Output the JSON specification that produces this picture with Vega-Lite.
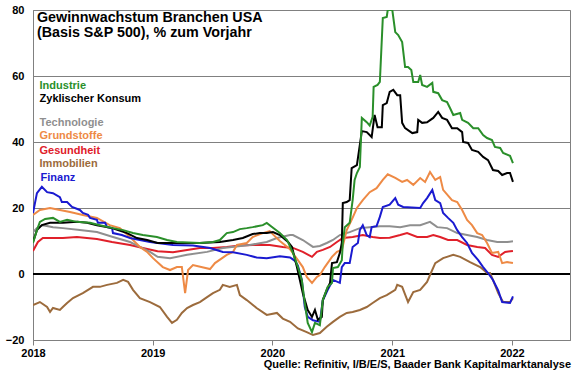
{
  "$schema": "https://vega.github.io/schema/vega-lite/v6.json",
  "width": 537,
  "height": 330,
  "autosize": {"type": "none"},
  "padding": {"left": 33, "top": 10, "right": 10, "bottom": 35},
  "background": "white",
  "config": {
    "font": "Liberation Sans",
    "view": {"stroke": "#808080", "strokeWidth": 1}
  },
  "title": {
    "text": "Quelle: Refinitiv, I/B/E/S, Baader Bank Kapitalmarktanalyse",
    "orient": "bottom",
    "anchor": "end",
    "fontSize": 11,
    "fontWeight": "bold",
    "color": "black",
    "font": "Liberation Sans",
    "offset": 1
  },
  "datasets": {
    "lines": [
      {"s": "Immobilien", "d": "2018-01-01", "v": -9.4},
      {"s": "Immobilien", "d": "2018-01-22", "v": -8.5},
      {"s": "Immobilien", "d": "2018-02-13", "v": -10.0},
      {"s": "Immobilien", "d": "2018-02-22", "v": -11.5},
      {"s": "Immobilien", "d": "2018-03-03", "v": -10.3},
      {"s": "Immobilien", "d": "2018-03-24", "v": -10.9},
      {"s": "Immobilien", "d": "2018-04-02", "v": -10.0},
      {"s": "Immobilien", "d": "2018-04-15", "v": -8.8},
      {"s": "Immobilien", "d": "2018-05-03", "v": -7.3},
      {"s": "Immobilien", "d": "2018-06-02", "v": -5.8},
      {"s": "Immobilien", "d": "2018-07-03", "v": -3.9},
      {"s": "Immobilien", "d": "2018-07-24", "v": -3.9},
      {"s": "Immobilien", "d": "2018-08-15", "v": -3.3},
      {"s": "Immobilien", "d": "2018-09-14", "v": -2.7},
      {"s": "Immobilien", "d": "2018-10-03", "v": -1.8},
      {"s": "Immobilien", "d": "2018-10-18", "v": -2.4},
      {"s": "Immobilien", "d": "2018-11-02", "v": -4.8},
      {"s": "Immobilien", "d": "2018-11-23", "v": -7.3},
      {"s": "Immobilien", "d": "2018-12-24", "v": -8.5},
      {"s": "Immobilien", "d": "2019-01-23", "v": -10.0},
      {"s": "Immobilien", "d": "2019-02-14", "v": -13.0},
      {"s": "Immobilien", "d": "2019-03-01", "v": -14.8},
      {"s": "Immobilien", "d": "2019-03-16", "v": -13.9},
      {"s": "Immobilien", "d": "2019-03-31", "v": -11.8},
      {"s": "Immobilien", "d": "2019-04-16", "v": -10.3},
      {"s": "Immobilien", "d": "2019-05-04", "v": -9.4},
      {"s": "Immobilien", "d": "2019-05-25", "v": -8.5},
      {"s": "Immobilien", "d": "2019-06-16", "v": -7.0},
      {"s": "Immobilien", "d": "2019-07-04", "v": -5.8},
      {"s": "Immobilien", "d": "2019-07-25", "v": -4.8},
      {"s": "Immobilien", "d": "2019-08-03", "v": -3.3},
      {"s": "Immobilien", "d": "2019-08-24", "v": -3.9},
      {"s": "Immobilien", "d": "2019-09-15", "v": -3.3},
      {"s": "Immobilien", "d": "2019-09-24", "v": -6.4},
      {"s": "Immobilien", "d": "2019-10-15", "v": -7.9},
      {"s": "Immobilien", "d": "2019-11-14", "v": -10.3},
      {"s": "Immobilien", "d": "2019-12-15", "v": -12.4},
      {"s": "Immobilien", "d": "2020-01-15", "v": -11.8},
      {"s": "Immobilien", "d": "2020-02-02", "v": -13.5},
      {"s": "Immobilien", "d": "2020-02-24", "v": -14.5},
      {"s": "Immobilien", "d": "2020-03-19", "v": -16.5},
      {"s": "Immobilien", "d": "2020-04-15", "v": -17.6},
      {"s": "Immobilien", "d": "2020-05-04", "v": -18.5},
      {"s": "Immobilien", "d": "2020-05-25", "v": -17.9},
      {"s": "Immobilien", "d": "2020-06-15", "v": -16.0},
      {"s": "Immobilien", "d": "2020-07-04", "v": -14.5},
      {"s": "Immobilien", "d": "2020-07-25", "v": -13.0},
      {"s": "Immobilien", "d": "2020-08-15", "v": -11.8},
      {"s": "Immobilien", "d": "2020-09-02", "v": -11.5},
      {"s": "Immobilien", "d": "2020-09-24", "v": -10.9},
      {"s": "Immobilien", "d": "2020-10-15", "v": -10.0},
      {"s": "Immobilien", "d": "2020-11-02", "v": -8.8},
      {"s": "Immobilien", "d": "2020-11-24", "v": -7.3},
      {"s": "Immobilien", "d": "2020-12-15", "v": -6.4},
      {"s": "Immobilien", "d": "2021-01-10", "v": -4.8},
      {"s": "Immobilien", "d": "2021-01-16", "v": -3.3},
      {"s": "Immobilien", "d": "2021-01-31", "v": -3.9},
      {"s": "Immobilien", "d": "2021-02-18", "v": -8.5},
      {"s": "Immobilien", "d": "2021-03-06", "v": -5.5},
      {"s": "Immobilien", "d": "2021-03-27", "v": -4.8},
      {"s": "Immobilien", "d": "2021-04-17", "v": -2.4},
      {"s": "Immobilien", "d": "2021-04-26", "v": -0.3},
      {"s": "Immobilien", "d": "2021-05-12", "v": 3.3},
      {"s": "Immobilien", "d": "2021-06-05", "v": 4.8},
      {"s": "Immobilien", "d": "2021-07-06", "v": 5.8},
      {"s": "Immobilien", "d": "2021-07-27", "v": 5.2},
      {"s": "Immobilien", "d": "2021-08-26", "v": 3.6},
      {"s": "Immobilien", "d": "2021-09-26", "v": 2.1},
      {"s": "Immobilien", "d": "2021-10-17", "v": 0.3},
      {"s": "Immobilien", "d": "2021-10-26", "v": 0.3},
      {"s": "Immobilien", "d": "2021-11-04", "v": -1.8},
      {"s": "Immobilien", "d": "2021-11-20", "v": -5.8},
      {"s": "Immobilien", "d": "2021-12-05", "v": -8.5},
      {"s": "Immobilien", "d": "2021-12-26", "v": -8.5},
      {"s": "Immobilien", "d": "2022-01-04", "v": -7.3},

      {"s": "Gesundheit", "d": "2018-01-01", "v": 7.0},
      {"s": "Gesundheit", "d": "2018-01-16", "v": 9.7},
      {"s": "Gesundheit", "d": "2018-01-31", "v": 10.9},
      {"s": "Gesundheit", "d": "2018-04-02", "v": 10.9},
      {"s": "Gesundheit", "d": "2018-05-15", "v": 11.2},
      {"s": "Gesundheit", "d": "2018-07-15", "v": 10.6},
      {"s": "Gesundheit", "d": "2018-08-30", "v": 9.7},
      {"s": "Gesundheit", "d": "2018-10-24", "v": 8.8},
      {"s": "Gesundheit", "d": "2018-12-02", "v": 7.9},
      {"s": "Gesundheit", "d": "2019-01-16", "v": 6.9},
      {"s": "Gesundheit", "d": "2019-03-04", "v": 6.6},
      {"s": "Gesundheit", "d": "2019-04-16", "v": 7.3},
      {"s": "Gesundheit", "d": "2019-05-25", "v": 7.9},
      {"s": "Gesundheit", "d": "2019-07-04", "v": 7.9},
      {"s": "Gesundheit", "d": "2019-08-15", "v": 8.2},
      {"s": "Gesundheit", "d": "2019-09-24", "v": 8.6},
      {"s": "Gesundheit", "d": "2019-11-02", "v": 8.8},
      {"s": "Gesundheit", "d": "2019-12-24", "v": 8.8},
      {"s": "Gesundheit", "d": "2020-02-02", "v": 8.2},
      {"s": "Gesundheit", "d": "2020-03-04", "v": 7.9},
      {"s": "Gesundheit", "d": "2020-04-03", "v": 6.7},
      {"s": "Gesundheit", "d": "2020-05-01", "v": 5.2},
      {"s": "Gesundheit", "d": "2020-05-16", "v": 6.7},
      {"s": "Gesundheit", "d": "2020-06-03", "v": 7.3},
      {"s": "Gesundheit", "d": "2020-06-25", "v": 8.2},
      {"s": "Gesundheit", "d": "2020-07-16", "v": 9.7},
      {"s": "Gesundheit", "d": "2020-08-03", "v": 10.9},
      {"s": "Gesundheit", "d": "2020-09-02", "v": 11.2},
      {"s": "Gesundheit", "d": "2020-10-03", "v": 11.8},
      {"s": "Gesundheit", "d": "2020-11-02", "v": 11.2},
      {"s": "Gesundheit", "d": "2020-11-24", "v": 10.9},
      {"s": "Gesundheit", "d": "2020-12-24", "v": 11.0},
      {"s": "Gesundheit", "d": "2021-01-25", "v": 11.8},
      {"s": "Gesundheit", "d": "2021-02-15", "v": 12.4},
      {"s": "Gesundheit", "d": "2021-03-18", "v": 11.2},
      {"s": "Gesundheit", "d": "2021-04-17", "v": 11.2},
      {"s": "Gesundheit", "d": "2021-05-06", "v": 11.8},
      {"s": "Gesundheit", "d": "2021-05-27", "v": 11.2},
      {"s": "Gesundheit", "d": "2021-06-20", "v": 10.3},
      {"s": "Gesundheit", "d": "2021-07-18", "v": 10.3},
      {"s": "Gesundheit", "d": "2021-08-17", "v": 8.8},
      {"s": "Gesundheit", "d": "2021-09-17", "v": 8.2},
      {"s": "Gesundheit", "d": "2021-10-11", "v": 7.9},
      {"s": "Gesundheit", "d": "2021-11-01", "v": 5.8},
      {"s": "Gesundheit", "d": "2021-11-20", "v": 5.2},
      {"s": "Gesundheit", "d": "2021-12-11", "v": 6.7},
      {"s": "Gesundheit", "d": "2022-01-04", "v": 7.0},

      {"s": "Technologie", "d": "2018-01-01", "v": 12.7},
      {"s": "Technologie", "d": "2018-01-13", "v": 13.9},
      {"s": "Technologie", "d": "2018-01-31", "v": 14.8},
      {"s": "Technologie", "d": "2018-03-03", "v": 14.2},
      {"s": "Technologie", "d": "2018-04-02", "v": 13.9},
      {"s": "Technologie", "d": "2018-05-24", "v": 13.3},
      {"s": "Technologie", "d": "2018-07-15", "v": 12.7},
      {"s": "Technologie", "d": "2018-09-02", "v": 11.2},
      {"s": "Technologie", "d": "2018-10-24", "v": 9.7},
      {"s": "Technologie", "d": "2018-11-23", "v": 8.2},
      {"s": "Technologie", "d": "2018-12-24", "v": 6.7},
      {"s": "Technologie", "d": "2019-01-16", "v": 5.2},
      {"s": "Technologie", "d": "2019-02-23", "v": 4.8},
      {"s": "Technologie", "d": "2019-04-16", "v": 5.8},
      {"s": "Technologie", "d": "2019-06-16", "v": 6.7},
      {"s": "Technologie", "d": "2019-08-03", "v": 7.9},
      {"s": "Technologie", "d": "2019-10-24", "v": 8.8},
      {"s": "Technologie", "d": "2019-12-15", "v": 9.7},
      {"s": "Technologie", "d": "2020-01-15", "v": 10.9},
      {"s": "Technologie", "d": "2020-02-24", "v": 11.8},
      {"s": "Technologie", "d": "2020-03-04", "v": 11.8},
      {"s": "Technologie", "d": "2020-04-03", "v": 10.3},
      {"s": "Technologie", "d": "2020-05-04", "v": 8.2},
      {"s": "Technologie", "d": "2020-05-25", "v": 8.5},
      {"s": "Technologie", "d": "2020-06-15", "v": 9.4},
      {"s": "Technologie", "d": "2020-07-04", "v": 10.3},
      {"s": "Technologie", "d": "2020-07-25", "v": 11.8},
      {"s": "Technologie", "d": "2020-08-24", "v": 12.7},
      {"s": "Technologie", "d": "2020-09-24", "v": 13.9},
      {"s": "Technologie", "d": "2020-10-24", "v": 14.2},
      {"s": "Technologie", "d": "2020-11-24", "v": 14.5},
      {"s": "Technologie", "d": "2020-12-24", "v": 14.5},
      {"s": "Technologie", "d": "2021-01-25", "v": 14.2},
      {"s": "Technologie", "d": "2021-02-24", "v": 14.8},
      {"s": "Technologie", "d": "2021-03-27", "v": 14.8},
      {"s": "Technologie", "d": "2021-04-26", "v": 15.8},
      {"s": "Technologie", "d": "2021-05-18", "v": 14.2},
      {"s": "Technologie", "d": "2021-06-17", "v": 13.9},
      {"s": "Technologie", "d": "2021-07-18", "v": 12.4},
      {"s": "Technologie", "d": "2021-08-17", "v": 11.8},
      {"s": "Technologie", "d": "2021-09-17", "v": 11.2},
      {"s": "Technologie", "d": "2021-10-17", "v": 10.3},
      {"s": "Technologie", "d": "2021-11-17", "v": 9.7},
      {"s": "Technologie", "d": "2021-12-17", "v": 9.7},
      {"s": "Technologie", "d": "2022-01-04", "v": 9.9},

      {"s": "Grundstoffe", "d": "2018-01-01", "v": 17.9},
      {"s": "Grundstoffe", "d": "2018-01-22", "v": 19.4},
      {"s": "Grundstoffe", "d": "2018-02-22", "v": 20.0},
      {"s": "Grundstoffe", "d": "2018-03-24", "v": 19.4},
      {"s": "Grundstoffe", "d": "2018-04-24", "v": 18.8},
      {"s": "Grundstoffe", "d": "2018-06-02", "v": 17.9},
      {"s": "Grundstoffe", "d": "2018-07-15", "v": 17.0},
      {"s": "Grundstoffe", "d": "2018-08-23", "v": 14.8},
      {"s": "Grundstoffe", "d": "2018-09-23", "v": 13.9},
      {"s": "Grundstoffe", "d": "2018-10-24", "v": 11.2},
      {"s": "Grundstoffe", "d": "2018-11-23", "v": 8.2},
      {"s": "Grundstoffe", "d": "2018-12-15", "v": 6.7},
      {"s": "Grundstoffe", "d": "2019-01-02", "v": 4.8},
      {"s": "Grundstoffe", "d": "2019-02-01", "v": 2.1},
      {"s": "Grundstoffe", "d": "2019-02-23", "v": 1.2},
      {"s": "Grundstoffe", "d": "2019-03-16", "v": 2.1},
      {"s": "Grundstoffe", "d": "2019-03-31", "v": 2.1},
      {"s": "Grundstoffe", "d": "2019-04-10", "v": -5.8},
      {"s": "Grundstoffe", "d": "2019-04-19", "v": 1.2},
      {"s": "Grundstoffe", "d": "2019-05-04", "v": 2.7},
      {"s": "Grundstoffe", "d": "2019-06-25", "v": 1.5},
      {"s": "Grundstoffe", "d": "2019-07-10", "v": 3.3},
      {"s": "Grundstoffe", "d": "2019-08-15", "v": 5.8},
      {"s": "Grundstoffe", "d": "2019-09-03", "v": 6.7},
      {"s": "Grundstoffe", "d": "2019-09-15", "v": 8.8},
      {"s": "Grundstoffe", "d": "2019-10-15", "v": 9.4},
      {"s": "Grundstoffe", "d": "2019-11-02", "v": 11.2},
      {"s": "Grundstoffe", "d": "2019-12-03", "v": 12.4},
      {"s": "Grundstoffe", "d": "2019-12-24", "v": 13.0},
      {"s": "Grundstoffe", "d": "2020-01-03", "v": 12.0},
      {"s": "Grundstoffe", "d": "2020-01-24", "v": 10.0},
      {"s": "Grundstoffe", "d": "2020-02-24", "v": 7.5},
      {"s": "Grundstoffe", "d": "2020-03-19", "v": 4.2},
      {"s": "Grundstoffe", "d": "2020-04-03", "v": 2.1},
      {"s": "Grundstoffe", "d": "2020-04-15", "v": -0.9},
      {"s": "Grundstoffe", "d": "2020-05-01", "v": -2.7},
      {"s": "Grundstoffe", "d": "2020-05-16", "v": -0.9},
      {"s": "Grundstoffe", "d": "2020-05-25", "v": -0.3},
      {"s": "Grundstoffe", "d": "2020-06-09", "v": 2.1},
      {"s": "Grundstoffe", "d": "2020-07-01", "v": 5.2},
      {"s": "Grundstoffe", "d": "2020-07-16", "v": 6.7},
      {"s": "Grundstoffe", "d": "2020-07-31", "v": 7.3},
      {"s": "Grundstoffe", "d": "2020-08-15", "v": 13.3},
      {"s": "Grundstoffe", "d": "2020-08-30", "v": 16.4},
      {"s": "Grundstoffe", "d": "2020-09-15", "v": 20.0},
      {"s": "Grundstoffe", "d": "2020-10-03", "v": 22.4},
      {"s": "Grundstoffe", "d": "2020-10-24", "v": 24.8},
      {"s": "Grundstoffe", "d": "2020-11-14", "v": 26.0},
      {"s": "Grundstoffe", "d": "2020-12-03", "v": 28.5},
      {"s": "Grundstoffe", "d": "2020-12-18", "v": 30.2},
      {"s": "Grundstoffe", "d": "2021-01-10", "v": 29.1},
      {"s": "Grundstoffe", "d": "2021-01-31", "v": 27.9},
      {"s": "Grundstoffe", "d": "2021-02-15", "v": 28.5},
      {"s": "Grundstoffe", "d": "2021-03-06", "v": 27.0},
      {"s": "Grundstoffe", "d": "2021-03-27", "v": 29.1},
      {"s": "Grundstoffe", "d": "2021-04-11", "v": 27.9},
      {"s": "Grundstoffe", "d": "2021-04-26", "v": 30.9},
      {"s": "Grundstoffe", "d": "2021-05-12", "v": 28.5},
      {"s": "Grundstoffe", "d": "2021-05-27", "v": 29.4},
      {"s": "Grundstoffe", "d": "2021-06-05", "v": 25.5},
      {"s": "Grundstoffe", "d": "2021-07-02", "v": 22.4},
      {"s": "Grundstoffe", "d": "2021-07-18", "v": 21.8},
      {"s": "Grundstoffe", "d": "2021-08-02", "v": 19.4},
      {"s": "Grundstoffe", "d": "2021-08-17", "v": 16.4},
      {"s": "Grundstoffe", "d": "2021-09-01", "v": 14.8},
      {"s": "Grundstoffe", "d": "2021-09-17", "v": 12.4},
      {"s": "Grundstoffe", "d": "2021-10-02", "v": 11.8},
      {"s": "Grundstoffe", "d": "2021-10-17", "v": 9.4},
      {"s": "Grundstoffe", "d": "2021-11-01", "v": 6.4},
      {"s": "Grundstoffe", "d": "2021-11-20", "v": 6.7},
      {"s": "Grundstoffe", "d": "2021-12-02", "v": 3.3},
      {"s": "Grundstoffe", "d": "2021-12-17", "v": 3.6},
      {"s": "Grundstoffe", "d": "2022-01-04", "v": 3.3},

      {"s": "Finanz", "d": "2018-01-01", "v": 18.5},
      {"s": "Finanz", "d": "2018-01-13", "v": 24.5},
      {"s": "Finanz", "d": "2018-01-28", "v": 26.4},
      {"s": "Finanz", "d": "2018-02-13", "v": 24.8},
      {"s": "Finanz", "d": "2018-03-03", "v": 24.5},
      {"s": "Finanz", "d": "2018-03-24", "v": 23.3},
      {"s": "Finanz", "d": "2018-03-30", "v": 21.8},
      {"s": "Finanz", "d": "2018-04-15", "v": 21.8},
      {"s": "Finanz", "d": "2018-04-30", "v": 20.3},
      {"s": "Finanz", "d": "2018-05-24", "v": 19.4},
      {"s": "Finanz", "d": "2018-06-02", "v": 18.5},
      {"s": "Finanz", "d": "2018-06-18", "v": 17.9},
      {"s": "Finanz", "d": "2018-06-24", "v": 17.0},
      {"s": "Finanz", "d": "2018-07-15", "v": 16.4},
      {"s": "Finanz", "d": "2018-07-18", "v": 15.5},
      {"s": "Finanz", "d": "2018-08-09", "v": 15.5},
      {"s": "Finanz", "d": "2018-08-15", "v": 14.2},
      {"s": "Finanz", "d": "2018-08-30", "v": 13.9},
      {"s": "Finanz", "d": "2018-09-02", "v": 12.4},
      {"s": "Finanz", "d": "2018-09-29", "v": 11.8},
      {"s": "Finanz", "d": "2018-10-24", "v": 10.9},
      {"s": "Finanz", "d": "2018-11-23", "v": 10.3},
      {"s": "Finanz", "d": "2018-12-24", "v": 9.7},
      {"s": "Finanz", "d": "2019-01-16", "v": 9.4},
      {"s": "Finanz", "d": "2019-03-04", "v": 8.8},
      {"s": "Finanz", "d": "2019-05-04", "v": 8.6},
      {"s": "Finanz", "d": "2019-06-25", "v": 7.9},
      {"s": "Finanz", "d": "2019-08-03", "v": 6.7},
      {"s": "Finanz", "d": "2019-09-03", "v": 6.6},
      {"s": "Finanz", "d": "2019-10-15", "v": 5.8},
      {"s": "Finanz", "d": "2019-11-14", "v": 5.0},
      {"s": "Finanz", "d": "2019-12-15", "v": 4.8},
      {"s": "Finanz", "d": "2020-01-24", "v": 5.4},
      {"s": "Finanz", "d": "2020-02-24", "v": 5.0},
      {"s": "Finanz", "d": "2020-03-10", "v": 4.0},
      {"s": "Finanz", "d": "2020-03-19", "v": 2.5},
      {"s": "Finanz", "d": "2020-03-31", "v": -1.8},
      {"s": "Finanz", "d": "2020-04-09", "v": -10.0},
      {"s": "Finanz", "d": "2020-04-18", "v": -13.0},
      {"s": "Finanz", "d": "2020-05-04", "v": -14.0},
      {"s": "Finanz", "d": "2020-05-25", "v": -14.5},
      {"s": "Finanz", "d": "2020-06-03", "v": -8.0},
      {"s": "Finanz", "d": "2020-06-18", "v": -4.8},
      {"s": "Finanz", "d": "2020-07-04", "v": -1.8},
      {"s": "Finanz", "d": "2020-07-25", "v": -2.7},
      {"s": "Finanz", "d": "2020-07-31", "v": 2.1},
      {"s": "Finanz", "d": "2020-08-09", "v": 3.3},
      {"s": "Finanz", "d": "2020-08-24", "v": 3.3},
      {"s": "Finanz", "d": "2020-09-02", "v": 8.2},
      {"s": "Finanz", "d": "2020-09-18", "v": 9.4},
      {"s": "Finanz", "d": "2020-09-24", "v": 13.3},
      {"s": "Finanz", "d": "2020-10-03", "v": 14.8},
      {"s": "Finanz", "d": "2020-10-15", "v": 11.8},
      {"s": "Finanz", "d": "2020-10-24", "v": 11.2},
      {"s": "Finanz", "d": "2020-10-30", "v": 14.2},
      {"s": "Finanz", "d": "2020-11-14", "v": 14.5},
      {"s": "Finanz", "d": "2020-11-24", "v": 17.3},
      {"s": "Finanz", "d": "2020-12-03", "v": 20.3},
      {"s": "Finanz", "d": "2020-12-24", "v": 21.0},
      {"s": "Finanz", "d": "2021-01-10", "v": 23.0},
      {"s": "Finanz", "d": "2021-01-19", "v": 21.0},
      {"s": "Finanz", "d": "2021-02-03", "v": 20.3},
      {"s": "Finanz", "d": "2021-03-27", "v": 20.0},
      {"s": "Finanz", "d": "2021-04-05", "v": 21.5},
      {"s": "Finanz", "d": "2021-04-17", "v": 23.0},
      {"s": "Finanz", "d": "2021-05-03", "v": 25.5},
      {"s": "Finanz", "d": "2021-05-12", "v": 22.4},
      {"s": "Finanz", "d": "2021-05-27", "v": 21.5},
      {"s": "Finanz", "d": "2021-06-05", "v": 18.5},
      {"s": "Finanz", "d": "2021-06-20", "v": 17.0},
      {"s": "Finanz", "d": "2021-07-06", "v": 15.5},
      {"s": "Finanz", "d": "2021-07-18", "v": 13.3},
      {"s": "Finanz", "d": "2021-08-02", "v": 11.2},
      {"s": "Finanz", "d": "2021-08-17", "v": 9.4},
      {"s": "Finanz", "d": "2021-09-01", "v": 6.4},
      {"s": "Finanz", "d": "2021-09-20", "v": 4.2},
      {"s": "Finanz", "d": "2021-10-05", "v": 2.1},
      {"s": "Finanz", "d": "2021-10-20", "v": 0.3},
      {"s": "Finanz", "d": "2021-11-04", "v": -1.8},
      {"s": "Finanz", "d": "2021-11-20", "v": -5.0},
      {"s": "Finanz", "d": "2021-12-02", "v": -8.5},
      {"s": "Finanz", "d": "2021-12-26", "v": -8.8},
      {"s": "Finanz", "d": "2022-01-04", "v": -6.8},

      {"s": "Zyklischer Konsum", "d": "2018-01-01", "v": 9.7},
      {"s": "Zyklischer Konsum", "d": "2018-01-13", "v": 13.3},
      {"s": "Zyklischer Konsum", "d": "2018-01-28", "v": 14.8},
      {"s": "Zyklischer Konsum", "d": "2018-02-22", "v": 15.5},
      {"s": "Zyklischer Konsum", "d": "2018-04-02", "v": 15.5},
      {"s": "Zyklischer Konsum", "d": "2018-05-15", "v": 15.8},
      {"s": "Zyklischer Konsum", "d": "2018-06-15", "v": 15.5},
      {"s": "Zyklischer Konsum", "d": "2018-07-15", "v": 14.8},
      {"s": "Zyklischer Konsum", "d": "2018-08-30", "v": 13.9},
      {"s": "Zyklischer Konsum", "d": "2018-10-15", "v": 12.4},
      {"s": "Zyklischer Konsum", "d": "2018-11-14", "v": 10.9},
      {"s": "Zyklischer Konsum", "d": "2018-12-15", "v": 10.3},
      {"s": "Zyklischer Konsum", "d": "2019-01-16", "v": 9.4},
      {"s": "Zyklischer Konsum", "d": "2019-03-25", "v": 9.4},
      {"s": "Zyklischer Konsum", "d": "2019-05-25", "v": 9.4},
      {"s": "Zyklischer Konsum", "d": "2019-07-25", "v": 9.7},
      {"s": "Zyklischer Konsum", "d": "2019-09-03", "v": 10.3},
      {"s": "Zyklischer Konsum", "d": "2019-10-03", "v": 10.9},
      {"s": "Zyklischer Konsum", "d": "2019-11-02", "v": 12.1},
      {"s": "Zyklischer Konsum", "d": "2019-11-24", "v": 12.4},
      {"s": "Zyklischer Konsum", "d": "2019-12-15", "v": 12.4},
      {"s": "Zyklischer Konsum", "d": "2020-01-03", "v": 12.7},
      {"s": "Zyklischer Konsum", "d": "2020-01-24", "v": 11.8},
      {"s": "Zyklischer Konsum", "d": "2020-02-18", "v": 9.7},
      {"s": "Zyklischer Konsum", "d": "2020-03-01", "v": 8.2},
      {"s": "Zyklischer Konsum", "d": "2020-03-16", "v": 2.1},
      {"s": "Zyklischer Konsum", "d": "2020-03-25", "v": -1.8},
      {"s": "Zyklischer Konsum", "d": "2020-04-03", "v": -5.8},
      {"s": "Zyklischer Konsum", "d": "2020-04-18", "v": -10.9},
      {"s": "Zyklischer Konsum", "d": "2020-05-01", "v": -13.0},
      {"s": "Zyklischer Konsum", "d": "2020-05-10", "v": -10.9},
      {"s": "Zyklischer Konsum", "d": "2020-05-19", "v": -13.9},
      {"s": "Zyklischer Konsum", "d": "2020-05-31", "v": -13.0},
      {"s": "Zyklischer Konsum", "d": "2020-06-03", "v": -7.9},
      {"s": "Zyklischer Konsum", "d": "2020-06-15", "v": -4.8},
      {"s": "Zyklischer Konsum", "d": "2020-06-25", "v": -2.7},
      {"s": "Zyklischer Konsum", "d": "2020-07-01", "v": 3.3},
      {"s": "Zyklischer Konsum", "d": "2020-07-16", "v": 3.6},
      {"s": "Zyklischer Konsum", "d": "2020-07-25", "v": 6.4},
      {"s": "Zyklischer Konsum", "d": "2020-07-31", "v": 9.4},
      {"s": "Zyklischer Konsum", "d": "2020-08-03", "v": 21.5},
      {"s": "Zyklischer Konsum", "d": "2020-08-15", "v": 21.8},
      {"s": "Zyklischer Konsum", "d": "2020-08-24", "v": 22.4},
      {"s": "Zyklischer Konsum", "d": "2020-08-30", "v": 32.1},
      {"s": "Zyklischer Konsum", "d": "2020-09-15", "v": 33.0},
      {"s": "Zyklischer Konsum", "d": "2020-09-30", "v": 43.3},
      {"s": "Zyklischer Konsum", "d": "2020-10-15", "v": 43.0},
      {"s": "Zyklischer Konsum", "d": "2020-10-30", "v": 41.5},
      {"s": "Zyklischer Konsum", "d": "2020-11-08", "v": 48.2},
      {"s": "Zyklischer Konsum", "d": "2020-11-17", "v": 44.5},
      {"s": "Zyklischer Konsum", "d": "2020-11-30", "v": 44.5},
      {"s": "Zyklischer Konsum", "d": "2020-12-03", "v": 51.2},
      {"s": "Zyklischer Konsum", "d": "2020-12-15", "v": 51.8},
      {"s": "Zyklischer Konsum", "d": "2020-12-24", "v": 55.2},
      {"s": "Zyklischer Konsum", "d": "2021-01-04", "v": 55.8},
      {"s": "Zyklischer Konsum", "d": "2021-01-16", "v": 54.2},
      {"s": "Zyklischer Konsum", "d": "2021-01-25", "v": 54.2},
      {"s": "Zyklischer Konsum", "d": "2021-01-31", "v": 45.8},
      {"s": "Zyklischer Konsum", "d": "2021-02-09", "v": 44.2},
      {"s": "Zyklischer Konsum", "d": "2021-03-03", "v": 42.7},
      {"s": "Zyklischer Konsum", "d": "2021-03-18", "v": 43.0},
      {"s": "Zyklischer Konsum", "d": "2021-03-21", "v": 46.7},
      {"s": "Zyklischer Konsum", "d": "2021-04-02", "v": 45.8},
      {"s": "Zyklischer Konsum", "d": "2021-04-17", "v": 46.0},
      {"s": "Zyklischer Konsum", "d": "2021-05-06", "v": 47.3},
      {"s": "Zyklischer Konsum", "d": "2021-05-21", "v": 49.1},
      {"s": "Zyklischer Konsum", "d": "2021-06-02", "v": 47.3},
      {"s": "Zyklischer Konsum", "d": "2021-06-17", "v": 46.7},
      {"s": "Zyklischer Konsum", "d": "2021-07-02", "v": 44.2},
      {"s": "Zyklischer Konsum", "d": "2021-07-18", "v": 44.2},
      {"s": "Zyklischer Konsum", "d": "2021-08-02", "v": 43.0},
      {"s": "Zyklischer Konsum", "d": "2021-08-05", "v": 40.0},
      {"s": "Zyklischer Konsum", "d": "2021-08-20", "v": 39.7},
      {"s": "Zyklischer Konsum", "d": "2021-09-01", "v": 37.6},
      {"s": "Zyklischer Konsum", "d": "2021-09-20", "v": 37.0},
      {"s": "Zyklischer Konsum", "d": "2021-10-05", "v": 35.5},
      {"s": "Zyklischer Konsum", "d": "2021-10-20", "v": 34.5},
      {"s": "Zyklischer Konsum", "d": "2021-11-04", "v": 31.5},
      {"s": "Zyklischer Konsum", "d": "2021-11-20", "v": 31.2},
      {"s": "Zyklischer Konsum", "d": "2021-12-02", "v": 30.0},
      {"s": "Zyklischer Konsum", "d": "2021-12-17", "v": 30.6},
      {"s": "Zyklischer Konsum", "d": "2021-12-26", "v": 30.6},
      {"s": "Zyklischer Konsum", "d": "2022-01-04", "v": 27.9},

      {"s": "Industrie", "d": "2018-01-01", "v": 9.4},
      {"s": "Industrie", "d": "2018-01-13", "v": 13.3},
      {"s": "Industrie", "d": "2018-01-22", "v": 15.8},
      {"s": "Industrie", "d": "2018-02-07", "v": 16.7},
      {"s": "Industrie", "d": "2018-03-03", "v": 17.0},
      {"s": "Industrie", "d": "2018-03-24", "v": 15.8},
      {"s": "Industrie", "d": "2018-04-15", "v": 16.4},
      {"s": "Industrie", "d": "2018-05-15", "v": 15.8},
      {"s": "Industrie", "d": "2018-06-24", "v": 15.5},
      {"s": "Industrie", "d": "2018-07-24", "v": 14.8},
      {"s": "Industrie", "d": "2018-09-02", "v": 13.9},
      {"s": "Industrie", "d": "2018-10-03", "v": 13.3},
      {"s": "Industrie", "d": "2018-11-02", "v": 12.4},
      {"s": "Industrie", "d": "2018-12-02", "v": 11.8},
      {"s": "Industrie", "d": "2019-01-14", "v": 11.2},
      {"s": "Industrie", "d": "2019-02-14", "v": 10.3},
      {"s": "Industrie", "d": "2019-03-16", "v": 9.7},
      {"s": "Industrie", "d": "2019-05-25", "v": 9.4},
      {"s": "Industrie", "d": "2019-07-04", "v": 9.7},
      {"s": "Industrie", "d": "2019-07-25", "v": 10.3},
      {"s": "Industrie", "d": "2019-08-15", "v": 12.4},
      {"s": "Industrie", "d": "2019-09-03", "v": 12.7},
      {"s": "Industrie", "d": "2019-09-24", "v": 13.6},
      {"s": "Industrie", "d": "2019-10-15", "v": 13.9},
      {"s": "Industrie", "d": "2019-11-02", "v": 14.2},
      {"s": "Industrie", "d": "2019-12-03", "v": 14.8},
      {"s": "Industrie", "d": "2019-12-15", "v": 15.5},
      {"s": "Industrie", "d": "2020-01-03", "v": 14.0},
      {"s": "Industrie", "d": "2020-01-24", "v": 12.4},
      {"s": "Industrie", "d": "2020-02-15", "v": 10.3},
      {"s": "Industrie", "d": "2020-03-04", "v": 6.4},
      {"s": "Industrie", "d": "2020-03-19", "v": 2.1},
      {"s": "Industrie", "d": "2020-03-31", "v": -1.8},
      {"s": "Industrie", "d": "2020-04-09", "v": -8.8},
      {"s": "Industrie", "d": "2020-04-18", "v": -14.8},
      {"s": "Industrie", "d": "2020-05-01", "v": -17.6},
      {"s": "Industrie", "d": "2020-05-10", "v": -14.8},
      {"s": "Industrie", "d": "2020-05-25", "v": -15.5},
      {"s": "Industrie", "d": "2020-06-03", "v": -7.9},
      {"s": "Industrie", "d": "2020-06-18", "v": -3.9},
      {"s": "Industrie", "d": "2020-07-01", "v": -2.7},
      {"s": "Industrie", "d": "2020-07-04", "v": 1.8},
      {"s": "Industrie", "d": "2020-07-19", "v": 2.1},
      {"s": "Industrie", "d": "2020-07-31", "v": 4.2},
      {"s": "Industrie", "d": "2020-08-03", "v": 9.4},
      {"s": "Industrie", "d": "2020-08-09", "v": 14.2},
      {"s": "Industrie", "d": "2020-08-24", "v": 15.5},
      {"s": "Industrie", "d": "2020-09-02", "v": 22.4},
      {"s": "Industrie", "d": "2020-09-08", "v": 28.5},
      {"s": "Industrie", "d": "2020-09-15", "v": 30.6},
      {"s": "Industrie", "d": "2020-09-24", "v": 32.4},
      {"s": "Industrie", "d": "2020-09-30", "v": 47.3},
      {"s": "Industrie", "d": "2020-10-15", "v": 46.0},
      {"s": "Industrie", "d": "2020-10-24", "v": 45.0},
      {"s": "Industrie", "d": "2020-11-02", "v": 47.6},
      {"s": "Industrie", "d": "2020-11-05", "v": 56.7},
      {"s": "Industrie", "d": "2020-11-17", "v": 57.3},
      {"s": "Industrie", "d": "2020-11-24", "v": 58.2},
      {"s": "Industrie", "d": "2020-12-03", "v": 77.6},
      {"s": "Industrie", "d": "2020-12-15", "v": 77.9},
      {"s": "Industrie", "d": "2020-12-18", "v": 80.0},
      {"s": "Industrie", "d": "2021-01-01", "v": 80.0},
      {"s": "Industrie", "d": "2021-01-10", "v": 73.3},
      {"s": "Industrie", "d": "2021-01-19", "v": 72.4},
      {"s": "Industrie", "d": "2021-01-31", "v": 70.3},
      {"s": "Industrie", "d": "2021-02-09", "v": 62.7},
      {"s": "Industrie", "d": "2021-02-18", "v": 62.7},
      {"s": "Industrie", "d": "2021-02-28", "v": 61.8},
      {"s": "Industrie", "d": "2021-03-06", "v": 58.2},
      {"s": "Industrie", "d": "2021-03-21", "v": 58.2},
      {"s": "Industrie", "d": "2021-03-27", "v": 60.3},
      {"s": "Industrie", "d": "2021-04-02", "v": 57.3},
      {"s": "Industrie", "d": "2021-04-17", "v": 56.7},
      {"s": "Industrie", "d": "2021-05-03", "v": 57.9},
      {"s": "Industrie", "d": "2021-05-06", "v": 55.2},
      {"s": "Industrie", "d": "2021-05-21", "v": 54.8},
      {"s": "Industrie", "d": "2021-06-02", "v": 52.7},
      {"s": "Industrie", "d": "2021-06-17", "v": 52.1},
      {"s": "Industrie", "d": "2021-06-26", "v": 50.3},
      {"s": "Industrie", "d": "2021-07-06", "v": 48.2},
      {"s": "Industrie", "d": "2021-07-27", "v": 48.8},
      {"s": "Industrie", "d": "2021-08-02", "v": 46.7},
      {"s": "Industrie", "d": "2021-08-20", "v": 45.8},
      {"s": "Industrie", "d": "2021-09-05", "v": 44.2},
      {"s": "Industrie", "d": "2021-09-20", "v": 44.2},
      {"s": "Industrie", "d": "2021-10-05", "v": 42.1},
      {"s": "Industrie", "d": "2021-10-17", "v": 41.2},
      {"s": "Industrie", "d": "2021-11-01", "v": 40.6},
      {"s": "Industrie", "d": "2021-11-10", "v": 38.5},
      {"s": "Industrie", "d": "2021-11-26", "v": 38.2},
      {"s": "Industrie", "d": "2021-12-05", "v": 36.7},
      {"s": "Industrie", "d": "2021-12-26", "v": 35.8},
      {"s": "Industrie", "d": "2022-01-04", "v": 33.6}
    ],
    "labels": [
      {"s": "Industrie", "d": "2018-01-21", "v": 57.0},
      {"s": "Zyklischer Konsum", "d": "2018-01-21", "v": 53.0},
      {"s": "Technologie", "d": "2018-01-21", "v": 45.8},
      {"s": "Grundstoffe", "d": "2018-01-21", "v": 41.8},
      {"s": "Gesundheit", "d": "2018-01-21", "v": 37.2},
      {"s": "Immobilien", "d": "2018-01-21", "v": 33.3},
      {"s": "Finanz", "d": "2018-01-24", "v": 29.1}
    ],
    "titles": [
      {"t": "Gewinnwachstum Branchen USA", "d": "2018-01-13", "v": 77.6},
      {"t": "(Basis S&P 500), % zum Vorjahr", "d": "2018-01-13", "v": 73.0}
    ]
  },
  "layer": [
    {
      "data": {"values": [{}]},
      "mark": {"type": "rule", "color": "black", "strokeWidth": 2},
      "encoding": {"y": {"datum": 0, "type": "quantitative"}}
    },
    {
      "data": {"name": "lines"},
      "mark": {"type": "line", "strokeWidth": 2, "clip": true},
      "encoding": {
        "x": {
          "field": "d",
          "type": "temporal",
          "scale": {"domain": [{"year": 2018, "month": 1, "date": 1}, {"year": 2022, "month": 6, "date": 27}]},
          "axis": {
            "title": null,
            "values": [
              {"year": 2018, "month": 1, "date": 1},
              {"year": 2019, "month": 1, "date": 1},
              {"year": 2020, "month": 1, "date": 1},
              {"year": 2021, "month": 1, "date": 1},
              {"year": 2022, "month": 1, "date": 1}
            ],
            "format": "%Y",
            "grid": false,
            "labelFont": "Liberation Sans",
            "labelFontWeight": "bold",
            "labelFontSize": 11,
            "labelColor": "black",
            "labelPadding": 2,
            "labelFlush": false,
            "tickSize": 5,
            "tickColor": "#808080",
            "domainColor": "#808080"
          }
        },
        "y": {
          "field": "v",
          "type": "quantitative",
          "scale": {"domain": [-20, 80], "nice": false, "zero": false},
          "axis": {
            "title": null,
            "values": [-20, 0, 20, 40, 60, 80],
            "grid": true,
            "gridColor": "#808080",
            "gridWidth": 1,
            "ticks": false,
            "tickSize": 0,
            "labelFont": "Liberation Sans",
            "labelFontWeight": "bold",
            "labelFontSize": 11,
            "labelColor": "black",
            "labelPadding": 9,
            "domainColor": "#808080"
          }
        },
        "color": {
          "field": "s",
          "type": "nominal",
          "legend": null,
          "scale": {
            "domain": ["Industrie", "Zyklischer Konsum", "Technologie", "Grundstoffe", "Gesundheit", "Immobilien", "Finanz"],
            "range": ["#2a8f2a", "#000000", "#8f8f8f", "#ee8a45", "#e0202a", "#9c6b3c", "#1a1ad0"]
          }
        }
      }
    },
    {
      "data": {"name": "labels"},
      "mark": {"type": "text", "align": "left", "baseline": "middle", "font": "Liberation Sans", "fontWeight": "bold", "fontSize": 11},
      "encoding": {
        "x": {"field": "d", "type": "temporal"},
        "y": {"field": "v", "type": "quantitative"},
        "text": {"field": "s"},
        "color": {"field": "s", "type": "nominal", "legend": null}
      }
    },
    {
      "data": {"name": "titles"},
      "mark": {"type": "text", "align": "left", "baseline": "middle", "font": "Liberation Sans", "fontWeight": "bold", "fontSize": 14.3, "color": "black"},
      "encoding": {
        "x": {"field": "d", "type": "temporal"},
        "y": {"field": "v", "type": "quantitative"},
        "text": {"field": "t"}
      }
    }
  ]
}
